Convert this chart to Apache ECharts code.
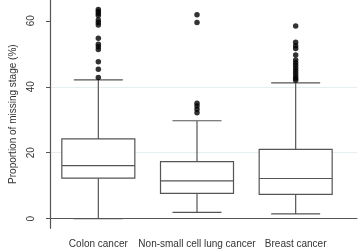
<!DOCTYPE html>
<html>
<head>
<meta charset="utf-8">
<script src="https://cdn.jsdelivr.net/npm/echarts@6/dist/echarts.min.js"></script>
<style>
  html, body { margin: 0; padding: 0; background: #fff; }
  #chart { width: 358px; height: 250px; }
</style>
</head>
<body>
<div id="chart"></div>
<script>
// categories on the x axis
const categories = ['Colon cancer', 'Non-small cell lung cancer', 'Breast cancer'];
// five-number summaries: [lower whisker, Q1, median, Q3, upper whisker]
const colonStats = [0, 12.3, 16.1, 24.2, 42.1];
const nsclcStats = [1.9, 7.7, 11.5, 17.3, 29.7];
const breastStats = [1.5, 7.4, 12.2, 21.0, 41.2];
// outliers
const colonOutliers = [63.4, 62.8, 62.2, 61.6, 60.2, 59.5, 58.7, 54.7, 52.9, 52.1, 51.3, 47.6, 45.3, 42.8];
const nsclcOutliers = [61.8, 59.5, 35.0, 34.2, 33.2, 32.1];
const breastOutliers = [58.4, 53.5, 52.4, 51.6, 49.6, 48.1, 47.3, 46.5, 45.7, 44.9, 44.1, 43.3, 42.6, 42.0];
// y ticks
const yTicks = [0, 20, 40, 60];
const yMin = -2.9, yMax = 66.3;

const stats = [colonStats, nsclcStats, breastStats];
const outliers = [colonOutliers, nsclcOutliers, breastOutliers];

const lineColor = '#555';
const textColor = '#333';
const font = 'Liberation Sans, Arial, sans-serif';

const chart = echarts.init(document.getElementById('chart'));

const boxData = stats.map(s => [s[1], s[1], s[2], s[3], s[3]]);
const whiskerData = stats.map(s => [s[0], s[2], s[2], s[2], s[4]]);
const outlierData = [];
outliers.forEach((arr, i) => arr.forEach(v => outlierData.push([i, v])));

const hiddenCat = {
    type: 'category',
    gridIndex: 0,
    data: categories,
    show: false
};

chart.setOption({
    animation: false,
    grid: [
        // boxes
        { left: 49, right: 13, top: 0, bottom: 21.7 },
        // axes frame
        { left: 37, right: 1, top: 0, bottom: 21.7 }
    ],
    xAxis: [
        {
            type: 'category',
            gridIndex: 0,
            data: categories,
            axisLine: { show: false },
            axisTick: { show: false },
            splitLine: { show: false },
            axisLabel: { color: textColor, fontSize: 10, fontFamily: font, margin: 11, interval: 0 }
        },
        {
            type: 'value',
            gridIndex: 1,
            min: 0,
            max: 1,
            axisLine: { show: true, lineStyle: { color: lineColor, width: 1.2 } },
            axisTick: { show: false },
            axisLabel: { show: false },
            splitLine: { show: false }
        },
        // separate base axis for the whiskers so the two boxplot series don't get offset
        hiddenCat
    ],
    yAxis: [
        {
            type: 'value',
            gridIndex: 0,
            min: yMin,
            max: yMax,
            show: false
        },
        {
            type: 'value',
            gridIndex: 1,
            min: yMin,
            max: yMax,
            splitNumber: 3,
            name: 'Proportion of missing stage (%)',
            nameLocation: 'middle',
            nameGap: 32,
            nameTextStyle: { color: textColor, fontSize: 10, fontFamily: font },
            axisLine: { show: true, lineStyle: { color: lineColor, width: 1.2 } },
            axisTick: { show: true, length: 4, customValues: yTicks, lineStyle: { color: lineColor } },
            axisLabel: { color: textColor, fontSize: 10, fontFamily: font, rotate: 90, margin: 14, customValues: yTicks },
            splitLine: { show: true, showMinLine: false, showMaxLine: false, lineStyle: { color: '#e6eef1', width: 1 } }
        }
    ],
    series: [
        {
            type: 'boxplot',
            xAxisIndex: 2,
            yAxisIndex: 0,
            data: whiskerData,
            boxWidth: [49, 49],
            itemStyle: { color: '#fff', borderColor: lineColor, borderWidth: 1.2 },
            z: 2
        },
        {
            type: 'boxplot',
            xAxisIndex: 0,
            yAxisIndex: 0,
            data: boxData,
            boxWidth: [73, 73],
            itemStyle: { color: '#fff', borderColor: lineColor, borderWidth: 1.2 },
            z: 3
        },
        {
            type: 'scatter',
            xAxisIndex: 0,
            yAxisIndex: 0,
            data: outlierData,
            symbolSize: 5.5,
            itemStyle: { color: '#000' },
            z: 4
        }
    ]
});
</script>
</body>
</html>
